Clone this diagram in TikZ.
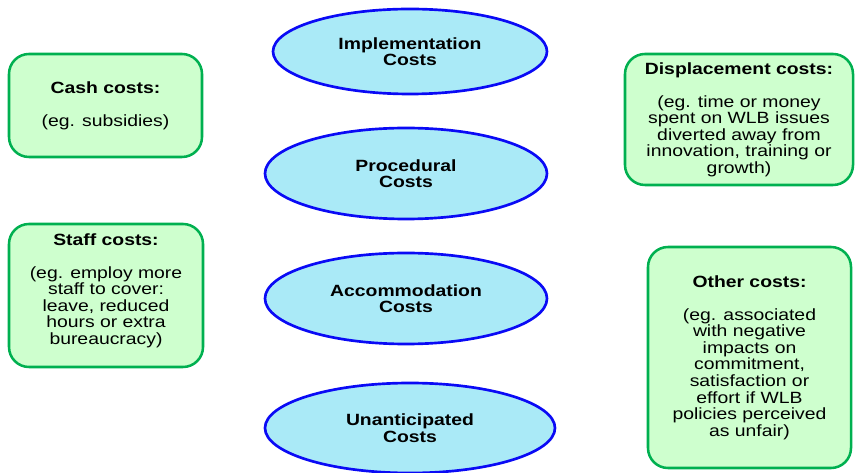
\documentclass[tikz,border=0pt]{standalone}
\usepackage{fontspec}
\newfontfamily\costfont[FakeStretch=1.19]{Liberation Sans}
\usetikzlibrary{shapes.geometric}
\definecolor{boxgreen}{RGB}{0,176,80}
\definecolor{boxfill}{RGB}{206,255,206}
\definecolor{ellblue}{RGB}{10,10,245}
\definecolor{ellfill}{RGB}{170,234,247}
\tikzset{costtext/.style={font=\costfont\fontsize{12.2pt}{12.4pt}\selectfont,align=center,inner sep=0pt,text=black}}
\tikzset{costbox/.style={costtext,rectangle,rounded corners=15pt,draw=boxgreen,fill=boxfill,line width=1.9pt}}
\tikzset{costell/.style={costtext,ellipse,draw=ellblue,fill=ellfill,line width=2pt,font=\costfont\bfseries\fontsize{12.2pt}{12.4pt}\selectfont}}

\begin{document}
\begin{tikzpicture}[x=0.75pt,y=-0.75pt]
\useasboundingbox (0,0) rectangle (855,473);
% ellipses in the middle column
\node (e1) [costell,minimum width=205.5pt,minimum height=63.75pt] at (410,51.5) {Implementation\\Costs};
\node (e2) [costell,minimum width=211.5pt,minimum height=68.25pt] at (406,173.5) {Procedural\\Costs};
\node (e3) [costell,minimum width=211.5pt,minimum height=68.25pt] at (406,298.5) {Accommodation\\Costs};
\node (e4) [costell,minimum width=217.5pt,minimum height=67.5pt] at (410,428) {Unanticipated\\Costs};
%
\node (b1) [costbox,minimum width=144.75pt,minimum height=77.25pt] at (105.5,105.5) {\textbf{Cash costs:}\\[12.4pt](eg. subsidies)};
\node (b2) [costbox,minimum width=145.5pt,minimum height=107.25pt] at (106,295.5) {\textbf{Staff costs:}\\[12.4pt](eg. employ more\\staff to cover:\\leave, reduced\\hours or extra\\bureaucracy)\\[-2.6pt]{}};
\node (b3) [costbox,minimum width=171pt,minimum height=98.25pt] at (739,119.5) {\textbf{Displacement costs:}\\[12.4pt](eg. time or money\\spent on WLB issues\\diverted away from\\innovation, training or\\growth)};
\node (b4) [costbox,minimum width=152.25pt,minimum height=165.75pt] at (749.5,357.5) {\textbf{Other costs:}\\[12.4pt](eg. associated\\with negative\\impacts on\\commitment,\\satisfaction or\\effort if WLB\\policies perceived\\as unfair)};
\end{tikzpicture}
\end{document}
